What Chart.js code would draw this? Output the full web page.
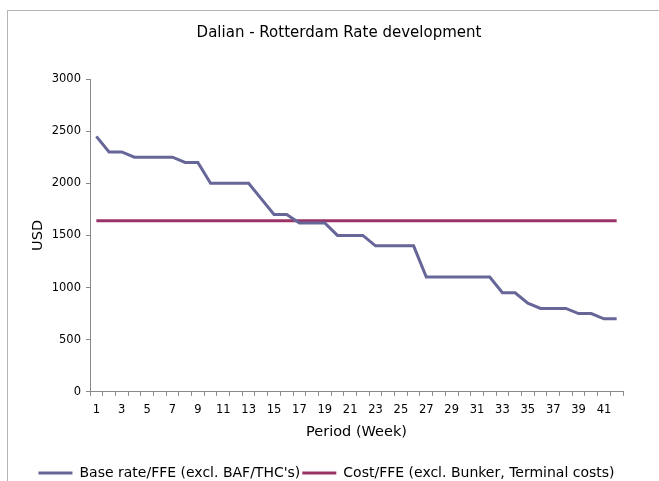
<!DOCTYPE html>
<html>
<head>
<meta charset="utf-8">
<script src="https://cdn.jsdelivr.net/npm/chart.js@4"></script>
<style>
  html, body { margin: 0; padding: 0; background: #fff; }
  #frame {
    position: absolute; left: 7px; top: 10px; width: 660px; height: 480px;
    border-left: 1px solid #b4b4b4; border-top: 1px solid #b4b4b4;
  }
  #wrap { position: absolute; left: 0; top: 0; width: 659px; height: 481px; }
</style>
</head>
<body>
<div id="frame"></div>
<div id="wrap"><canvas id="myChart" width="659" height="481"></canvas></div>
<script>
  // Weeks 1..42
  const weeks = Array.from({ length: 42 }, (_, i) => String(i + 1))

  const baseRate = [
    2450, 2300, 2300, 2250, 2250, 2250, 2250, 2200, 2200, 2000,
    2000, 2000, 2000, 1850, 1700, 1700, 1620, 1620, 1620, 1500,
    1500, 1500, 1400, 1400, 1400, 1400, 1100, 1100, 1100, 1100,
    1100, 1100, 950, 950, 850, 800, 800, 800, 750, 750,
    700, 700
  ]

  const cost = weeks.map(() => 1640)

  const yTicks = [0, 500, 1000, 1500, 2000, 2500, 3000]

  Chart.defaults.font.family = '"DejaVu Sans", Verdana, sans-serif'
  Chart.defaults.font.size = 11.5
  Chart.defaults.color = '#000'

  // the title sits a bit right of the legend centre in the original
  const shiftTitle = {
    id: 'shiftTitle',
    afterLayout (chart) {
      if (chart.titleBlock) chart.titleBlock.left = 55
    }
  }

  const ctx = document.getElementById('myChart')
  // eslint-disable-next-line no-unused-vars
  const myChart = new Chart(ctx, {
    type: 'line',
    plugins: [shiftTitle],
    data: {
      labels: weeks,
      datasets: [{
        label: "Base rate/FFE (excl. BAF/THC's)",
        data: baseRate,
        borderColor: '#666699',
        backgroundColor: '#666699',
        borderWidth: 3,
        pointRadius: 0,
        lineTension: 0
      },
      {
        label: 'Cost/FFE (excl. Bunker, Terminal costs)',
        data: cost,
        borderColor: '#993366',
        backgroundColor: '#993366',
        borderWidth: 3,
        pointRadius: 0,
        lineTension: 0
      }]
    },
    options: {
      responsive: false,
      animation: false,
      layout: {
        padding: { left: 30, right: 36, top: 0, bottom: -9 }
      },
      scales: {
        x: {
          offset: true,
          grid: {
            offset: true,
            drawOnChartArea: false,
            tickLength: 4,
            color: '#888'
          },
          border: { color: '#888' },
          ticks: {
            autoSkip: false,
            maxRotation: 0,
            padding: 7,
            callback: (v, i) => (i % 2 === 0 ? weeks[i] : '')
          },
          title: {
            display: true,
            text: 'Period (Week)',
            font: { size: 14.5 },
            padding: { top: 0, bottom: 23 }
          }
        },
        y: {
          min: 0,
          max: 3000,
          afterBuildTicks: (scale) => {
            scale.ticks = yTicks.map(v => ({ value: v }))
          },
          afterFit: (scale) => {
            scale.width = 60
          },
          grid: {
            drawOnChartArea: false,
            tickLength: 4,
            color: '#888'
          },
          border: { color: '#888' },
          ticks: {
            padding: 5,
            callback: (v) => String(v)
          },
          title: {
            display: true,
            text: 'USD',
            font: { size: 14.5 },
            padding: { top: 0, bottom: 0 }
          }
        }
      },
      plugins: {
        title: {
          display: true,
          text: 'Dalian - Rotterdam Rate development',
          font: { size: 15, weight: 'normal' },
          padding: { top: 24, bottom: 37 }
        },
        legend: {
          position: 'bottom',
          labels: {
            usePointStyle: true,
            pointStyle: 'line',
            pointStyleWidth: 34,
            boxHeight: 14,
            padding: 2,
            font: { size: 14 }
          }
        },
        tooltip: { enabled: false }
      }
    }
  })
</script>
</body>
</html>
